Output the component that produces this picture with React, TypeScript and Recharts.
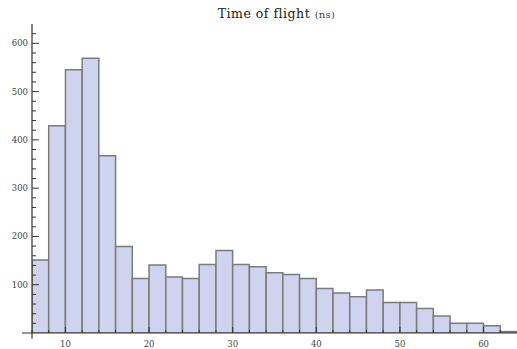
import { Bar, BarChart, ReferenceLine, XAxis, YAxis } from 'recharts';

// histogram bins (left edge, ns) and counts
const binStarts = [6, 8, 10, 12, 14, 16, 18, 20, 22, 24, 26, 28, 30, 32, 34, 36, 38, 40, 42, 44, 46, 48, 50, 52, 54, 56, 58, 60, 62];
const counts = [151, 429, 545, 569, 367, 179, 113, 141, 116, 113, 142, 171, 142, 137, 125, 121, 113, 92, 83, 75, 89, 63, 63, 51, 35, 20, 20, 15, 3];
const BIN_WIDTH = 2;

const xMajor = [10, 20, 30, 40, 50, 60];
const yMajor = [100, 200, 300, 400, 500, 600];
const xTicks = Array.from({ length: 29 }, (_, i) => 6 + i * 2);
const yTicks = Array.from({ length: 31 }, (_, i) => 20 + i * 20);

const X_DOMAIN: [number, number] = [6, 64];
const Y_DOMAIN: [number, number] = [0, 640];

const data = binStarts.map((start, i) => ({ center: start + BIN_WIDTH / 2, count: counts[i] }));

const WIDTH = 517;
const HEIGHT = 349;
const AXIS_W = 32;
const PLOT_W = WIDTH - AXIS_W;
// just under one bin wide: recharts shrinks bars to 90% if barSize >= band
const barSize = (PLOT_W / (X_DOMAIN[1] - X_DOMAIN[0])) * BIN_WIDTH - 0.05;

const FONT = '"DejaVu Serif", serif';
const AXIS_COLOR = '#333';

function YTick({ x, y, payload }: any) {
  const major = yMajor.includes(payload.value);
  return (
    <g>
      <line x1={x} x2={x + (major ? 7 : 4)} y1={y} y2={y} stroke={AXIS_COLOR} strokeWidth={1} />
      {major && (
        <text x={x - 4} y={y} dy="0.35em" textAnchor="end" fontSize={8.5} fontFamily={FONT} fill="#444">
          {payload.value}
        </text>
      )}
    </g>
  );
}

function XTick({ x, y, payload }: any) {
  const major = xMajor.includes(payload.value);
  return (
    <g>
      <line x1={x} x2={x} y1={y} y2={y - (major ? 6 : 3)} stroke={AXIS_COLOR} strokeWidth={1} />
      {major && (
        <text x={x} y={y + 14} textAnchor="middle" fontSize={8.5} fontFamily={FONT} fill="#444">
          {payload.value}
        </text>
      )}
    </g>
  );
}

export default function App() {
  return (
    <div style={{ position: 'absolute', left: 0, top: 0, width: WIDTH, height: HEIGHT, background: '#fff' }}>
      <div
        style={{
          position: 'absolute',
          left: 0,
          width: WIDTH,
          top: 6,
          textAlign: 'center',
          paddingLeft: 36,
          boxSizing: 'border-box',
          fontFamily: FONT,
          fontSize: 12.5,
          letterSpacing: 0.5,
          color: '#222',
          lineHeight: '16px',
        }}
      >
        Time of flight <span style={{ fontSize: 10, color: '#444', letterSpacing: 0.3 }}>(ns)</span>
      </div>
      <BarChart width={WIDTH} height={HEIGHT} data={data} margin={{ top: 24, right: 0, bottom: 0, left: 0 }}>
        <XAxis
          dataKey="center"
          type="number"
          domain={X_DOMAIN}
          allowDataOverflow
          ticks={xTicks}
          interval={0}
          tick={<XTick />}
          tickLine={false}
          axisLine={false}
          tickSize={0}
          tickMargin={0}
          height={16}
        />
        <YAxis
          type="number"
          domain={Y_DOMAIN}
          allowDataOverflow
          ticks={yTicks}
          interval={0}
          tick={<YTick />}
          tickLine={false}
          axisLine={false}
          tickSize={0}
          tickMargin={0}
          width={AXIS_W}
        />
        <Bar
          dataKey="count"
          barSize={barSize}
          fill="#cfd3ed"
          stroke="#7c7c7c"
          strokeWidth={1.5}
          isAnimationActive={false}
        />
        <ReferenceLine
          segment={[{ x: 4.8, y: 0 }, { x: 64, y: 0 }]}
          stroke={AXIS_COLOR}
          strokeWidth={1.2}
          ifOverflow="visible"
        />
        <ReferenceLine
          segment={[{ x: 6, y: -12 }, { x: 6, y: 640 }]}
          stroke={AXIS_COLOR}
          strokeWidth={1.2}
          ifOverflow="visible"
        />
      </BarChart>
    </div>
  );
}
